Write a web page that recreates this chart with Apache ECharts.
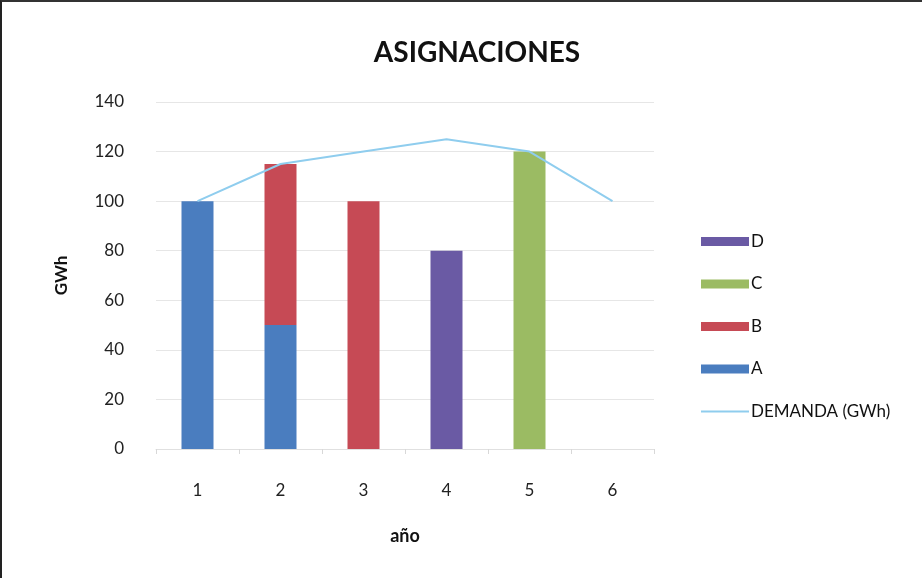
<!DOCTYPE html>
<html>
<head>
<meta charset="utf-8">
<script src="https://cdn.jsdelivr.net/npm/echarts@6/dist/echarts.min.js"></script>
<style>
  html, body { margin: 0; padding: 0; background: #fff; }
  #chart { width: 922px; height: 578px; box-sizing: border-box;
    border-left: 2px solid #222; border-top: 2px solid #333; }
</style>
</head>
<body>
<div id="chart"></div>
<script>
// datos del grafico
const anios = ["1", "2", "3", "4", "5", "6"];
const serieA = [100, 50, null, null, null, null];
const serieB = [null, 65, 100, null, null, null];
const serieC = [null, null, null, null, 120, null];
const serieD = [null, null, null, 80, null, null];
const demanda = [100, 115, 120, 125, 120, 100];
const ticksY = [0, 140, 20];

const fuente = "Lato, 'Open Sans', sans-serif";
const colores = { A: "#4a7dbf", B: "#c64a55", C: "#9bbb63", D: "#6a5aa4", dem: "#8fcdee" };

function barra(nombre, datos, color) {
  return {
    name: nombre,
    type: "bar",
    stack: "total",
    barWidth: 32,
    data: datos,
    itemStyle: { color: color },
  };
}

const option = {
  animation: false,
  textStyle: { fontFamily: fuente },
  title: {
    text: "ASIGNACIONES",
    left: 470,
    textAlign: "center",
    top: 32,
    textStyle: { fontSize: 28, fontWeight: "bold", color: "#111", fontFamily: fuente },
  },
  grid: { left: 154, right: 268, top: 100, bottom: 129 },
  legend: {
    orient: "vertical",
    left: 693,
    top: 226,
    itemWidth: 48,
    itemHeight: 9,
    itemGap: 25.5,
    data: [
      { name: "D", icon: "rect" },
      { name: "C", icon: "rect" },
      { name: "B", icon: "rect" },
      { name: "A", icon: "rect" },
      { name: "DEMANDA (GWh)", itemStyle: { opacity: 0 } },
    ],
    textStyle: { fontSize: 17, color: "#111", padding: [0, 0, 0, -3] },
  },
  xAxis: {
    type: "category",
    data: anios,
    name: "año",
    nameLocation: "middle",
    nameGap: 78,
    nameTextStyle: { fontSize: 18, fontWeight: "bold", color: "#111" },
    axisLine: { lineStyle: { color: "#e0e0e0" } },
    axisTick: { show: true, length: 5, lineStyle: { color: "#d8d8d8" } },
    axisLabel: { fontSize: 17, color: "#222", margin: 33 },
  },
  yAxis: {
    type: "value",
    min: ticksY[0],
    max: ticksY[1],
    interval: ticksY[2],
    name: "GWh",
    nameLocation: "middle",
    nameGap: 86,
    nameRotate: 90,
    nameTextStyle: { fontSize: 17, fontWeight: "bold", color: "#111" },
    axisLine: { show: false },
    axisTick: { show: false },
    axisLabel: { fontSize: 17, color: "#222", margin: 32 },
    splitLine: { lineStyle: { color: "#e6e6e6", width: 1 } },
  },
  series: [
    barra("A", serieA, colores.A),
    barra("B", serieB, colores.B),
    barra("C", serieC, colores.C),
    barra("D", serieD, colores.D),
    {
      name: "DEMANDA (GWh)",
      type: "line",
      data: demanda,
      showSymbol: false,
      symbol: "none",
      z: 5,
      lineStyle: { color: colores.dem, width: 2 },
      itemStyle: { color: colores.dem },
    },
  ],
};

let miGrafico = echarts.init(document.getElementById("chart"));
miGrafico.setOption(option);
</script>
</body>
</html>
